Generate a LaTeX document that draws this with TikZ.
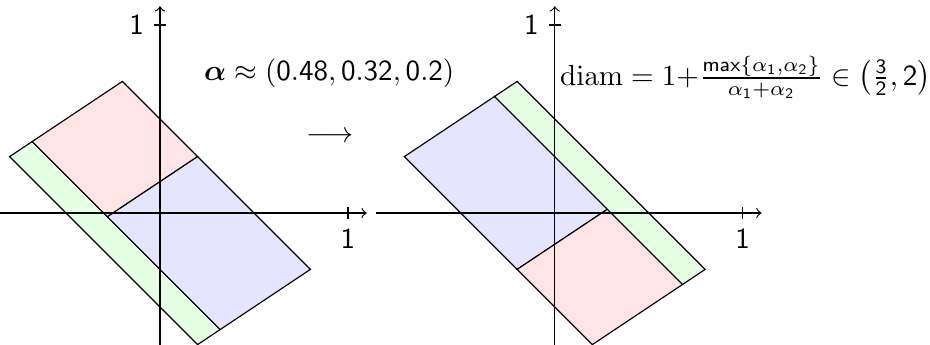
\documentclass[tikz,border=0pt]{standalone}
\usepackage{amsmath,amssymb}
\usepackage{tikz}

\begin{document}
\begin{tikzpicture}[x=2.27cm,y=2.27cm]
\clip (-0.851,-0.702) rectangle (4.096,1.133);
 %before
 \filldraw[fill=green!10, draw=black] (-0.8,0.3) -- (-0.68,0.38) -- (0.32,-0.62) -- (0.2,-0.7) -- cycle;
 \filldraw[fill=red!10, draw=black] (-0.68,0.38) -- (-0.2,0.7) -- (0.2,0.3) -- (-0.28,-0.02) -- cycle;
 \filldraw[fill=blue!10, draw=black] (-0.28,-0.02) -- (0.2,0.3) -- (0.8,-0.3) -- (0.32,-0.62) -- cycle;
 % axes
 \draw[black, ->] (-0.95,0) -- (1.1,0);
 \draw[black, ->] (0,-0.95) -- (0,1.1);
 \draw[black] (1,-2pt) -- (1,2pt) node[black, below] (xone) at (1,-2pt) {\textsf{1}};
 \draw[black] (-2pt,1) -- (2pt,1) node[black, left] (yone) at (-2pt,1) {\textsf{1}};

 \node[black] (alpha) at (0.9,0.745) {$\boldsymbol{\alpha}\approx(\mathsf{0.48},\mathsf{0.32},\mathsf{0.2})$};
 \node[black] (map) at (0.904,0.404) {$\longrightarrow$};

 %after
 \begin{scope}[shift={(2.1,0)}]
 \filldraw[fill=blue!10, draw=black] (-0.8,0.3) -- (-0.32,0.62) -- (0.28,0.02) -- (-0.2,-0.3) -- cycle;
 \filldraw[fill=red!10, draw=black] (-0.2,-0.3) -- (0.28,0.02) -- (0.68,-0.38) -- (0.2,-0.7) -- cycle;
 \filldraw[fill=green!10, draw=black] (-0.32,0.62) -- (-0.2,0.7) -- (0.8,-0.3) -- (0.68,-0.38) -- cycle;
 % axes
 \draw[black, ->] (-0.95,0) -- (1.1,0);
 \draw[black, ->] (0,-0.95) -- (0,1.1);
 \draw[black] (1,-2pt) -- (1,2pt) node[black, below] (xtwo) at (1,-2pt) {\textsf{1}};
 \draw[black] (-2pt,1) -- (2pt,1) node[black, left] (ytwo) at (-2pt,1) {\textsf{1}};

 \node[black, right, inner sep=1pt] (diam) at (0.01,0.723) {$\mathrm{diam}=\mathrm{1}{+}\frac{\mathsf{max}\{\alpha_{\mathsf{1}},\alpha_{\mathsf{2}}\}}{\alpha_{\mathsf{1}}+\alpha_{\mathsf{2}}}\in\left(\tfrac{\mathsf{3}}{\mathsf{2}},\mathsf{2}\right)$};
 \end{scope}
\end{tikzpicture}
\end{document}
